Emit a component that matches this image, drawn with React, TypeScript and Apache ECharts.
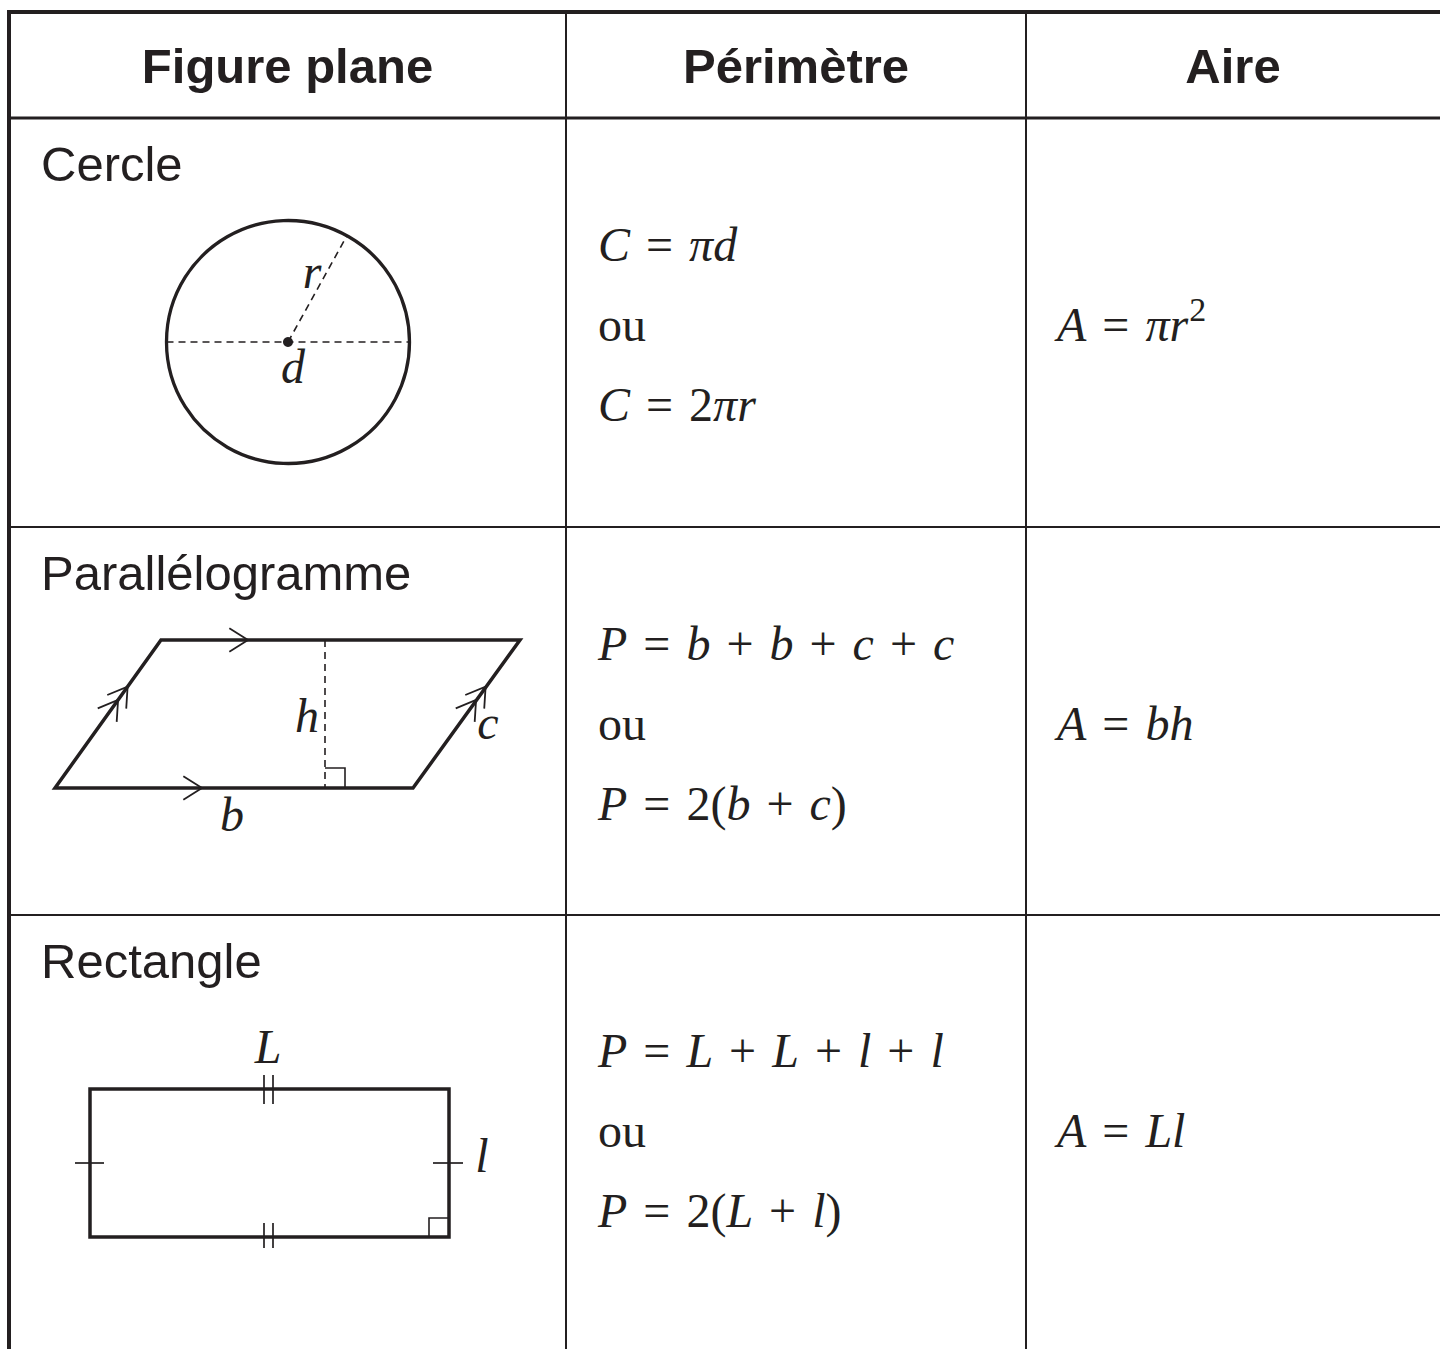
import { useEffect, useRef } from "react";
import * as echarts from "echarts";

// ---- content ----
const headers = ["Figure plane", "Périmètre", "Aire"];
const figureNames = ["Cercle", "Parallélogramme", "Rectangle"];
const perimeterCircle = ["{i|C} = {i|πd}", "ou", "{i|C} = 2{i|πr}"];
const perimeterParallelogram = ["{i|P} = {i|b} + {i|b} + {i|c} + {i|c}", "ou", "{i|P} = 2({i|b} + {i|c})"];
const perimeterRectangle = ["{i|P} = {i|L} + {i|L} + {i|l} + {i|l}", "ou", "{i|P} = 2({i|L} + {i|l})"];
const areaFormulas = ["{i|A} = {i|πr}{s|2}", "{i|A} = {i|bh}", "{i|A} = {i|Ll}"];
const circleLabels = ["r", "d"];
const parallelogramLabels = ["h", "c", "b"];
const rectangleLabels = ["L", "l"];

// ---- layout ----
const INK = "#231f20";
const W = 1440;
const H = 1349;
const colX = [9, 566, 1026, W];
const rowY = [12, 118, 527, 915, H];
const SANS = '"Liberation Sans", Arial, sans-serif';
const SERIF = '"Liberation Serif", "Times New Roman", serif';
const SP = "\u2004"; // wider math spacing around operators

function widen(t: string) {
  return t.replace(/ ([=+]) /g, `${SP}$1${SP}`);
}

function chevron(ax: number, ay: number, dx: number, dy: number, len = 22, angDeg = 32) {
  const a = (angDeg * Math.PI) / 180;
  const bx = -dx, by = -dy;
  const r = (t: number) => [bx * Math.cos(t) - by * Math.sin(t), bx * Math.sin(t) + by * Math.cos(t)];
  const p1 = r(a), p2 = r(-a);
  return {
    type: "polyline",
    shape: { points: [[ax + len * p1[0], ay + len * p1[1]], [ax, ay], [ax + len * p2[0], ay + len * p2[1]]] },
    style: { stroke: INK, lineWidth: 1.8, fill: "none" },
  };
}

function line(x1: number, y1: number, x2: number, y2: number, lw: number, extra: any = {}) {
  return { type: "line", shape: { x1, y1, x2, y2 }, style: { stroke: INK, lineWidth: lw, ...extra } };
}

function label(t: string, x: number, y: number) {
  return {
    type: "text", x, y,
    style: { text: t, font: `italic 48px ${SERIF}`, fill: INK, align: "center", verticalAlign: "middle" },
  };
}

const richStyles = {
  i: { font: `italic 48px ${SERIF}`, fill: INK },
  s: { font: `34px ${SERIF}`, fill: INK, padding: [0, 0, 30, 1] },
};

function formula(t: string, x: number, y: number) {
  return {
    type: "text", x, y,
    style: { text: widen(t), font: `48px ${SERIF}`, fill: INK, align: "left", verticalAlign: "middle", rich: richStyles },
  };
}

function buildElements() {
  const els: any[] = [];
  // table lines
  els.push(line(colX[0], rowY[0], W, rowY[0], 4));
  els.push(line(colX[0], rowY[0] - 2, colX[0], H, 4));
  els.push(line(colX[0], rowY[1], W, rowY[1], 3));
  els.push(line(colX[0], rowY[2], W, rowY[2], 2));
  els.push(line(colX[0], rowY[3], W, rowY[3], 2));
  els.push(line(colX[1], rowY[0], colX[1], H, 2));
  els.push(line(colX[2], rowY[0], colX[2], H, 2));

  // headers
  headers.forEach((h, i) => {
    els.push({
      type: "text",
      x: (colX[i] + colX[i + 1]) / 2,
      y: (rowY[0] + rowY[1]) / 2 + 1,
      style: { text: h, font: `bold 49px ${SANS}`, fill: INK, align: "center", verticalAlign: "middle" },
    });
  });

  // figure names
  figureNames.forEach((n, i) => {
    els.push({
      type: "text", x: 41, y: rowY[i + 1] + 46,
      style: { text: n, font: `49px ${SANS}`, fill: INK, align: "left", verticalAlign: "middle" },
    });
  });

  // formulas (vertically centred in their row)
  const perims = [perimeterCircle, perimeterParallelogram, perimeterRectangle];
  const mids = [(rowY[1] + rowY[2]) / 2, (rowY[2] + rowY[3]) / 2, (rowY[3] + rowY[4]) / 2 - 4];
  perims.forEach((lines, i) => {
    const m = mids[i];
    lines.forEach((t, k) => {
      els.push(formula(t, 598, m + 2 + (k - 1) * 80));
    });
    els.push(formula(areaFormulas[i], 1057, m + 2));
  });

  // circle
  const cx = 288, cy = 342, R = 121.5;
  els.push({ type: "circle", shape: { cx, cy, r: R }, style: { fill: "none", stroke: INK, lineWidth: 3.3 } });
  els.push(line(cx - R, cy, cx + R, cy, 1.6, { lineDash: [7, 5] }));
  const ang = (61 * Math.PI) / 180;
  els.push(line(cx, cy, cx + R * Math.cos(ang), cy - R * Math.sin(ang), 1.6, { lineDash: [7, 5] }));
  els.push({ type: "circle", shape: { cx, cy, r: 5 }, style: { fill: INK } });
  els.push(label(circleLabels[0], 312, 271));
  els.push(label(circleLabels[1], 293, 366));

  // parallelogram
  const BL = [55, 788], TL = [161, 640], TR = [520, 640], BR = [413, 788];
  els.push({
    type: "polygon",
    shape: { points: [BL, TL, TR, BR] },
    style: { fill: "none", stroke: INK, lineWidth: 3.5, lineJoin: "miter" },
  });
  els.push(line(325, 640, 325, 788, 1.6, { lineDash: [7, 5] }));
  els.push({ type: "polyline", shape: { points: [[325, 768], [345, 768], [345, 788]] }, style: { stroke: INK, lineWidth: 1.6, fill: "none" } });
  els.push(chevron(248, 640, 1, 0));
  els.push(chevron(202, 788, 1, 0));
  const ex = TL[0] - BL[0], ey = TL[1] - BL[1];
  const el = Math.hypot(ex, ey);
  const ux = ex / el, uy = ey / el;
  [0.595, 0.685].forEach((t) => {
    els.push(chevron(BL[0] + ex * t, BL[1] + ey * t, ux, uy));
    els.push(chevron(BR[0] + ex * t, BR[1] + ey * t, ux, uy));
  });
  els.push(label(parallelogramLabels[0], 307, 715));
  els.push(label(parallelogramLabels[1], 488, 722));
  els.push(label(parallelogramLabels[2], 232, 814));

  // rectangle
  const rx = 90, ry = 1089, rw = 359, rh = 148;
  els.push({ type: "rect", shape: { x: rx, y: ry, width: rw, height: rh }, style: { fill: "none", stroke: INK, lineWidth: 3.5 } });
  [264, 273].forEach((x) => {
    els.push(line(x, ry - 14, x, ry + 15, 1.7));
    els.push(line(x, ry + rh - 14, x, ry + rh + 11, 1.7));
  });
  els.push(line(75, 1163, 104, 1163, 1.7));
  els.push(line(433, 1163, 463, 1163, 1.7));
  els.push({ type: "polyline", shape: { points: [[429, 1237], [429, 1218], [449, 1218]] }, style: { stroke: INK, lineWidth: 1.6, fill: "none" } });
  els.push(label(rectangleLabels[0], 268, 1046));
  els.push(label(rectangleLabels[1], 482, 1155));

  return els;
}

export default function App() {
  const ref = useRef<HTMLDivElement>(null);
  useEffect(() => {
    const chart = echarts.init(ref.current!, null, { renderer: "svg" });
    chart.setOption({
      animation: false,
      backgroundColor: "#ffffff",
      graphic: { elements: buildElements() },
    });
    return () => chart.dispose();
  }, []);
  return <div ref={ref} style={{ position: "absolute", left: 0, top: 0, width: W, height: H }} />;
}
